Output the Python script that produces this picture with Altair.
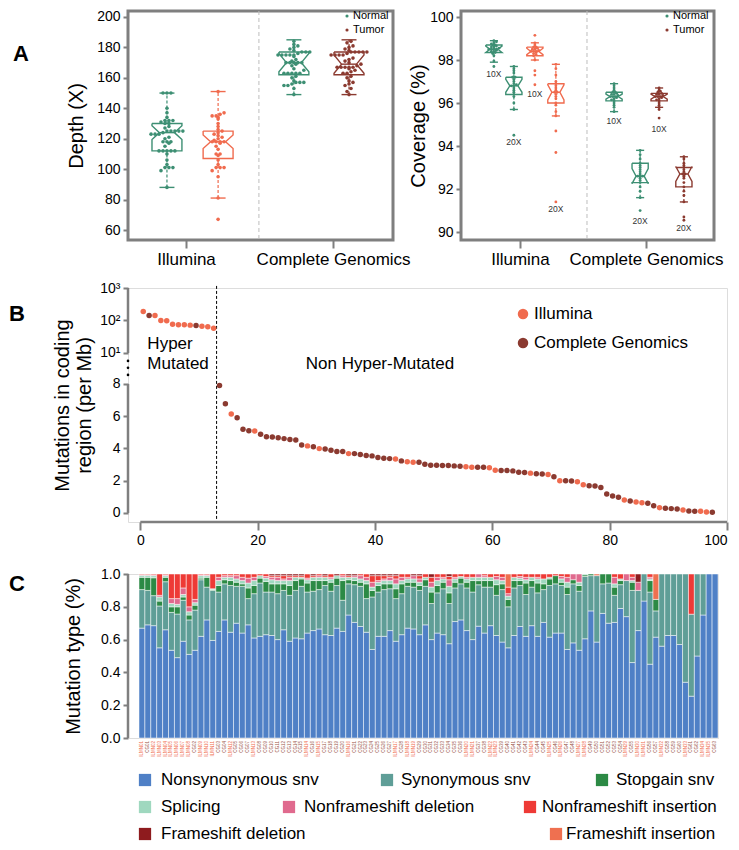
import altair as alt
import pandas as pd
import numpy as np

FONT = "Liberation Sans"
GREEN = "#3d8f73"
CORAL = "#f06b4e"
DARK = "#8b3a30"
GRAY = "#7f7f7f"

# ---------------- Panel A (left): sequencing depth ----------------
DEPTH_ILL_NORMAL = [88, 99, 101, 101, 101, 103, 106, 110, 112, 112, 112, 112, 112, 115, 117,
                    118, 118, 118, 120, 121, 123, 123, 123, 124, 125, 125, 125, 125, 125, 127,
                    128, 130, 130, 131, 132, 132, 132, 134, 137, 140, 150, 150, 150]
DEPTH_ILL_TUMOR = [67, 81, 95, 99, 101, 101, 101, 103, 106, 109, 110, 110, 113, 115, 117, 118,
                   118, 118, 118, 119, 120, 121, 122, 123, 124, 125, 126, 128, 130, 133, 134,
                   135, 135, 136, 137, 151]
DEPTH_CG_NORMAL = [149, 153, 155, 155, 156, 157, 157, 157, 158, 160, 161, 163, 163, 163, 163,
                   163, 165, 166, 168, 169, 170, 170, 170, 170, 170, 171, 172, 174, 175, 175,
                   175, 175, 175, 176, 177, 177, 177, 178, 179, 180, 181, 182, 184]
DEPTH_CG_TUMOR = [149, 151, 153, 155, 156, 157, 158, 160, 161, 163, 163, 164, 165, 166, 167,
                  167, 167, 167, 167, 168, 169, 170, 171, 172, 173, 175, 175, 175, 175, 176,
                  177, 177, 177, 177, 177, 178, 179, 180, 181, 183, 184]
DEPTH_Q1 = [112, 107, 162, 162]
DEPTH_MEDIAN = [124, 118, 170, 169]
DEPTH_Q3 = [130, 125, 177, 177]
DEPTH_WHISK_LO = [88, 81, 149, 149]
DEPTH_WHISK_HI = [150, 151, 185, 185]
DEPTH_NOTCH = [4.5, 4.5, 6.0, 6.0]

# ---------------- Panel A (right): coverage ----------------
COV_ILL_N10 = [97.7, 97.95, 98.2, 98.3, 98.35, 98.4, 98.4, 98.45, 98.5, 98.5, 98.5, 98.5,
               98.55, 98.6, 98.6, 98.65, 98.7, 98.7, 98.75, 98.8, 98.85, 98.9]
COV_ILL_N20 = [94.5, 95.7, 96.0, 96.3, 96.4, 96.5, 96.6, 96.7, 96.8, 96.8, 96.85, 96.9,
               97.0, 97.1, 97.2, 97.2, 97.4, 97.5, 97.6, 97.7]
COV_ILL_T10 = [96.85, 97.3, 97.5, 98.0, 98.2, 98.25, 98.3, 98.35, 98.4, 98.4, 98.4, 98.45,
               98.5, 98.5, 98.55, 98.6, 98.6, 98.7, 98.8, 99.15]
COV_ILL_T20 = [91.4, 93.7, 94.7, 95.4, 95.6, 95.9, 96.0, 96.2, 96.3, 96.4, 96.5, 96.5,
               96.6, 96.7, 96.8, 96.9, 97.0, 97.3, 97.6, 97.8]
COV_CG_N10 = [95.6, 95.8, 95.9, 96.0, 96.1, 96.15, 96.2, 96.25, 96.3, 96.3, 96.3, 96.35,
              96.4, 96.4, 96.45, 96.5, 96.5, 96.6, 96.7, 96.8, 96.9]
COV_CG_N20 = [91.0, 91.6, 91.9, 92.1, 92.3, 92.4, 92.5, 92.6, 92.6, 92.6, 92.7, 92.8,
              92.9, 93.0, 93.1, 93.2, 93.4, 93.6, 93.8]
COV_CG_T10 = [95.3, 95.7, 95.8, 95.9, 96.0, 96.1, 96.15, 96.2, 96.25, 96.3, 96.3, 96.3,
              96.35, 96.4, 96.4, 96.45, 96.5, 96.55, 96.6, 96.7]
COV_CG_T20 = [90.55, 90.7, 91.4, 91.7, 91.9, 92.1, 92.3, 92.5, 92.6, 92.7, 92.7, 92.8,
              92.9, 93.0, 93.1, 93.2, 93.4, 93.5]
COV_Q1 = [98.35, 96.4, 98.2, 96.0, 96.1, 92.3, 96.1, 92.1]
COV_MEDIAN = [98.5, 96.8, 98.4, 96.5, 96.3, 92.6, 96.3, 92.7]
COV_Q3 = [98.7, 97.2, 98.6, 96.9, 96.5, 93.2, 96.45, 93.0]
COV_WHISK_LO = [97.9, 95.7, 98.0, 95.4, 95.6, 91.6, 95.8, 91.4]
COV_WHISK_HI = [98.9, 97.7, 98.8, 97.8, 96.9, 93.8, 96.7, 93.5]
COV_NOTCH = [0.15, 0.3, 0.15, 0.35, 0.12, 0.35, 0.12, 0.35]
COV_TAGS = ["10X", "20X", "10X", "20X", "10X", "20X", "10X", "20X"]
COV_TAG_Y = [97.35, 94.2, 96.4, 91.05, 95.15, 90.5, 94.8, 90.2]

# ---------------- Panel B: mutation rate per sample ----------------
MUT_RATE = [189, 142, 142, 100, 98, 77, 74, 74, 72, 70, 66, 64, 58,
            7.9, 6.77, 6.13, 5.9, 5.19, 5.1, 5.08, 4.88, 4.73, 4.71, 4.67, 4.61, 4.55, 4.53,
            4.22, 4.16, 4.1, 3.99, 3.97, 3.89, 3.81, 3.81, 3.68, 3.68, 3.62, 3.56,
            3.54, 3.44, 3.40, 3.37, 3.35, 3.23, 3.17, 3.15, 3.15, 3.02,
            2.96, 2.96, 2.94, 2.94, 2.92, 2.90, 2.86, 2.84, 2.84, 2.84,
            2.80, 2.65, 2.63, 2.63, 2.61, 2.53, 2.51, 2.47, 2.43, 2.41,
            2.39, 2.24, 2.0, 2.0, 1.98, 1.93, 1.75, 1.69, 1.67, 1.58,
            1.17, 1.05, 0.97, 0.80, 0.74, 0.68, 0.64, 0.60, 0.45, 0.33,
            0.29, 0.27, 0.25, 0.19, 0.12, 0.11, 0.10, 0.06, 0.04]
PLATFORM_CODES = ("ICIIIIIIICIII" + "CCICCCICCCCCCCCICICCCCICCC" +
                  "CCCCICIICC" + "CCCCCCIICC" + "IICCCCCICC" + "ICICCIICCC" +
                  "CCCICIICCI" + "CCCICCIIC")
PLATFORM_NAMES = {"I": "Illumina", "C": "Complete Genomics"}

# ---------------- Panel C: mutation-type fractions per sample ----------------
NONSYN = [0.67, 0.69, 0.685, 0.55, 0.66, 0.535, 0.49, 0.59, 0.51, 0.535,
          0.62, 0.72, 0.595, 0.65, 0.72, 0.645, 0.70, 0.64, 0.69, 0.61,
          0.62, 0.63, 0.625, 0.60, 0.66, 0.59, 0.61, 0.605, 0.64, 0.655,
          0.665, 0.63, 0.625, 0.67, 0.65, 0.75, 0.705, 0.68, 0.645, 0.54,
          0.62, 0.62, 0.655, 0.59, 0.63, 0.67, 0.665, 0.63, 0.69, 0.60,
          0.64, 0.63, 0.575, 0.71, 0.72, 0.655, 0.60, 0.675, 0.64, 0.685,
          0.625, 0.585, 0.55, 0.625, 0.68, 0.62, 0.685, 0.62, 0.705, 0.615,
          0.64, 0.64, 0.54, 0.58, 0.535, 0.605, 0.775, 0.585, 0.76, 0.70,
          0.705, 0.79, 0.74, 0.46, 0.655, 0.835, 0.45, 0.615, 0.56, 0.625,
          0.625, 0.57, 0.34, 0.255, 0.50, 0.75, 1.0, 1.0]
SYN = [0.235, 0.21, 0.183, 0.255, 0.293, 0.231, 0.266, 0.25, 0.21, 0.245,
       0.345, 0.20, 0.305, 0.24, 0.22, 0.285, 0.225, 0.285, 0.16, 0.27,
       0.325, 0.26, 0.265, 0.28, 0.24, 0.28, 0.29, 0.32, 0.25, 0.24,
       0.24, 0.30, 0.27, 0.26, 0.19, 0.19, 0.23, 0.245, 0.205, 0.32,
       0.27, 0.285, 0.255, 0.26, 0.25, 0.255, 0.255, 0.27, 0.235, 0.22,
       0.245, 0.28, 0.245, 0.205, 0.22, 0.26, 0.29, 0.25, 0.28, 0.235,
       0.245, 0.32, 0.25, 0.29, 0.25, 0.255, 0.235, 0.265, 0.20, 0.315,
       0.30, 0.29, 0.335, 0.36, 0.36, 0.38, 0.215, 0.405, 0.18, 0.245,
       0.165, 0.145, 0.22, 0.44, 0.245, 0.165, 0.44, 0.16, 0.44, 0.375,
       0.375, 0.43, 0.66, 0.50, 0.50, 0.25, 0.0, 0.0]
STOPGAIN = [0.075, 0.08, 0.109, 0.03, 0.027, 0.034, 0.044, 0.02, 0.03, 0.03,
            0.01, 0.06, 0.005, 0.04, 0.025, 0.03, 0.025, 0.015, 0.065, 0.05,
            0.03, 0.065, 0.05, 0.06, 0.04, 0.06, 0.06, 0.045, 0.055, 0.065,
            0.055, 0.03, 0.055, 0.045, 0.12, 0.025, 0.025, 0.025, 0.09, 0.04,
            0.04, 0.035, 0.03, 0.06, 0.06, 0.025, 0.03, 0.03, 0.04, 0.07,
            0.045, 0.04, 0.065, 0.035, 0.035, 0.035, 0.07, 0.025, 0.04, 0.04,
            0.065, 0.035, 0.045, 0.045, 0.03, 0.07, 0.04, 0.06, 0.035, 0.04,
            0.05, 0.02, 0.045, 0.025, 0.035, 0.01, 0.01, 0.0, 0.06, 0.055,
            0.05, 0.025, 0.0, 0.05, 0.0, 0.0, 0.07, 0.07, 0.0, 0.0,
            0.0, 0.0, 0.0, 0.0, 0.0, 0.0, 0.0, 0.0]
SPLICING = [0.012, 0.012, 0.013, 0.025, 0.01, 0.02, 0.015, 0.015, 0.02, 0.015,
            0.015, 0.01, 0.005, 0.03, 0.015, 0.02, 0.02, 0.02, 0.03, 0.03,
            0.015, 0.02, 0.025, 0.02, 0.02, 0.03, 0.02, 0.01, 0.02, 0.02,
            0.02, 0.02, 0.02, 0.015, 0.02, 0.015, 0.02, 0.02, 0.02, 0.02,
            0.02, 0.02, 0.02, 0.03, 0.02, 0.02, 0.02, 0.02, 0.015, 0.03,
            0.03, 0.02, 0.04, 0.02, 0.01, 0.02, 0.02, 0.02, 0.02, 0.02,
            0.03, 0.02, 0.02, 0.02, 0.015, 0.02, 0.02, 0.025, 0.03, 0.01,
            0.0, 0.02, 0.03, 0.0, 0.02, 0.005, 0.0, 0.0, 0.0, 0.0,
            0.02, 0.01, 0.0, 0.01, 0.0, 0.0, 0.01, 0.0, 0.0, 0.0,
            0.0, 0.0, 0.0, 0.0, 0.0, 0.0, 0.0, 0.0]
NF_DELETION = [0.004, 0.004, 0.005, 0.01, 0.005, 0.03, 0.035, 0.04, 0.03, 0.02,
               0.005, 0.005, 0.0, 0.02, 0.01, 0.01, 0.02, 0.02, 0.03, 0.02,
               0.0, 0.01, 0.015, 0.02, 0.01, 0.02, 0.0, 0.0, 0.01, 0.0,
               0.01, 0.0, 0.01, 0.0, 0.01, 0.0, 0.01, 0.02, 0.02, 0.03,
               0.01, 0.01, 0.02, 0.03, 0.02, 0.01, 0.02, 0.02, 0.0, 0.03,
               0.02, 0.01, 0.04, 0.01, 0.0, 0.01, 0.0, 0.02, 0.01, 0.0,
               0.02, 0.02, 0.015, 0.0, 0.01, 0.015, 0.0, 0.01, 0.0, 0.0,
               0.0, 0.015, 0.03, 0.035, 0.05, 0.0, 0.0, 0.0, 0.0, 0.0,
               0.04, 0.0, 0.04, 0.02, 0.05, 0.0, 0.01, 0.0, 0.0, 0.0,
               0.0, 0.0, 0.0, 0.0, 0.0, 0.0, 0.0, 0.0]
NF_INSERTION = [0.004, 0.004, 0.005, 0.13, 0.005, 0.15, 0.15, 0.085, 0.20, 0.155,
                0.005, 0.005, 0.09, 0.02, 0.01, 0.01, 0.01, 0.02, 0.025, 0.02,
                0.01, 0.015, 0.01, 0.01, 0.02, 0.01, 0.01, 0.01, 0.025, 0.01,
                0.01, 0.01, 0.02, 0.0, 0.01, 0.01, 0.0, 0.01, 0.02, 0.04,
                0.03, 0.02, 0.01, 0.02, 0.02, 0.02, 0.0, 0.02, 0.02, 0.03,
                0.02, 0.02, 0.02, 0.02, 0.015, 0.02, 0.02, 0.0, 0.01, 0.02,
                0.015, 0.02, 0.04, 0.02, 0.015, 0.02, 0.02, 0.02, 0.03, 0.02,
                0.01, 0.015, 0.02, 0.0, 0.0, 0.0, 0.0, 0.0, 0.0, 0.0,
                0.02, 0.03, 0.0, 0.02, 0.0, 0.0, 0.02, 0.0, 0.0, 0.0,
                0.0, 0.0, 0.0, 0.245, 0.0, 0.0, 0.0, 0.0]
FS_DELETION = [0.0, 0.0, 0.0, 0.0, 0.0, 0.0, 0.0, 0.0, 0.0, 0.0,
               0.0, 0.0, 0.0, 0.0, 0.0, 0.0, 0.0, 0.0, 0.0, 0.0,
               0.0, 0.0, 0.01, 0.01, 0.01, 0.01, 0.01, 0.01, 0.0, 0.01,
               0.0, 0.01, 0.0, 0.01, 0.0, 0.01, 0.01, 0.0, 0.0, 0.01,
               0.01, 0.01, 0.01, 0.01, 0.0, 0.0, 0.01, 0.01, 0.0, 0.02,
               0.0, 0.0, 0.015, 0.0, 0.0, 0.0, 0.0, 0.0, 0.0, 0.0,
               0.0, 0.0, 0.0, 0.0, 0.0, 0.0, 0.0, 0.0, 0.0, 0.0,
               0.0, 0.0, 0.0, 0.0, 0.0, 0.0, 0.0, 0.0, 0.0, 0.0,
               0.0, 0.0, 0.0, 0.0, 0.05, 0.0, 0.0, 0.0, 0.0, 0.0,
               0.0, 0.0, 0.0, 0.0, 0.0, 0.0, 0.0, 0.0]
FS_INSERTION = [0.0, 0.0, 0.0, 0.0, 0.0, 0.0, 0.0, 0.0, 0.0, 0.0,
                0.0, 0.0, 0.0, 0.0, 0.0, 0.0, 0.0, 0.0, 0.0, 0.0,
                0.0, 0.0, 0.0, 0.0, 0.0, 0.0, 0.0, 0.0, 0.0, 0.0,
                0.0, 0.0, 0.0, 0.0, 0.0, 0.0, 0.0, 0.0, 0.0, 0.0,
                0.0, 0.0, 0.0, 0.0, 0.0, 0.0, 0.0, 0.0, 0.0, 0.0,
                0.0, 0.0, 0.0, 0.0, 0.0, 0.0, 0.0, 0.0, 0.0, 0.0,
                0.0, 0.0, 0.08, 0.0, 0.0, 0.0, 0.0, 0.0, 0.0, 0.0,
                0.0, 0.0, 0.0, 0.0, 0.0, 0.0, 0.0, 0.01, 0.0, 0.0,
                0.0, 0.0, 0.0, 0.0, 0.0, 0.0, 0.0, 0.155, 0.0, 0.0,
                0.0, 0.0, 0.0, 0.0, 0.0, 0.0, 0.0, 0.0]
MUT_CATS = ["Nonsynonymous snv", "Synonymous snv", "Stopgain snv", "Splicing",
            "Nonframeshift deletion", "Nonframeshift insertion",
            "Frameshift insertion", "Frameshift deletion"]
MUT_COLORS = ["#4f80c6", "#5f9e97", "#2c8a45", "#9fd8bf",
              "#e06a8e", "#ee3a36", "#ef7050", "#8e1b1e"]

# ---------------- layout (pixels / axis positions, not data) ----------------
A1_W, A1_H = 265, 229
A2_W, A2_H = 253, 229
B_W, B_H = 599, 234
C_W, C_H = 590, 164
DEPTH_POS = [1.47, 3.40, 6.26, 8.34]
DEPTH_BOX_W = 1.13
COV_POS = [1.30, 2.09, 2.92, 3.75, 6.05, 7.08, 7.83, 8.81]
COV_BOX_W = 0.64
T10, KDEC = 9.92, 2.015   # broken-axis transform for panel B

ONE = pd.DataFrame({"k": [0]})


def text_at(txt, x, y, size, color="black", weight="normal", align="left"):
    return alt.Chart(ONE).mark_text(text=txt, fontSize=size, fontWeight=weight, font=FONT,
                                    align=align, baseline="middle", color=color).encode(
        x=alt.value(x), y=alt.value(y))


def dot_at(x, y, color, size, shape="circle"):
    return alt.Chart(ONE).mark_point(shape=shape, filled=True, size=size, opacity=1,
                                     color=color).encode(x=alt.value(x), y=alt.value(y))


def box_frames(groups, pos, boxw, q1, med, q3, lo, hi, notch, colors, bin_w, step):
    outline, whisk, solid, pts = [], [], [], []
    for g in range(len(pos)):
        cx, hw = pos[g], boxw / 2
        iw = hw * 0.5
        a, m, b, nt, c = q1[g], med[g], q3[g], notch[g], colors[g]
        poly = [(cx - hw, b), (cx + hw, b), (cx + hw, m + nt), (cx + iw, m), (cx + hw, m - nt),
                (cx + hw, a), (cx - hw, a), (cx - hw, m - nt), (cx - iw, m), (cx - hw, m + nt),
                (cx - hw, b)]
        for k, (x, y) in enumerate(poly):
            outline.append({"g": g, "k": k, "x": x, "y": y, "c": c})
        whisk.append({"x": cx, "x2": cx, "y": lo[g], "y2": a, "c": c})
        whisk.append({"x": cx, "x2": cx, "y": b, "y2": hi[g], "c": c})
        solid.append({"x": cx - hw / 2, "x2": cx + hw / 2, "y": lo[g], "y2": lo[g], "c": c})
        solid.append({"x": cx - hw / 2, "x2": cx + hw / 2, "y": hi[g], "y2": hi[g], "c": c})
        solid.append({"x": cx - iw, "x2": cx + iw, "y": m, "y2": m, "c": c})
        bins = {}
        for v in sorted(groups[g]):
            bins.setdefault(int(round(v / bin_w)), []).append(v)
        for vs in bins.values():
            n = len(vs)
            for k, v in enumerate(vs):
                pts.append({"x": cx + (k - (n - 1) / 2) * step, "y": v, "c": c})
    return (pd.DataFrame(outline), pd.DataFrame(whisk), pd.DataFrame(solid),
            pd.DataFrame(pts))


def box_layers(frames, X, Y, dot_size):
    outline, whisk, solid, pts = frames
    col = alt.Color("c:N", scale=None)
    return [
        alt.Chart(whisk).mark_rule(strokeDash=[3, 2], strokeWidth=1.2).encode(
            x=X("x"), x2="x2", y=Y("y"), y2="y2", color=col),
        alt.Chart(solid).mark_rule(strokeWidth=1.4).encode(
            x=X("x"), x2="x2", y=Y("y"), y2="y2", color=col),
        alt.Chart(outline).mark_line(strokeWidth=1.4).encode(
            x=X("x"), y=Y("y"), color=col, detail="g:N", order="k:Q"),
        alt.Chart(pts).mark_circle(size=dot_size, opacity=1).encode(
            x=X("x"), y=Y("y"), color=col),
    ]


AXIS_STYLE = dict(domain=False, grid=False, tickWidth=2, tickColor=GRAY, labelColor="black",
                  labelFont=FONT, titleFont=FONT, titleFontWeight="normal", titleColor="black")

# ----- Panel A left -----
ax_a1_x = alt.Axis(values=[2.19, 7.74], title=None, tickSize=8, labelFontSize=17, labelPadding=3,
                   labelExpr="datum.value < 5 ? 'Illumina' : 'Complete Genomics'", **AXIS_STYLE)
ax_a1_y = alt.Axis(values=[60, 80, 100, 120, 140, 160, 180, 200], title="Depth (X)", tickSize=5,
                   labelFontSize=14, labelPadding=3, titleFontSize=20, titlePadding=10, **AXIS_STYLE)
sx_a1 = alt.Scale(domain=[0, 10], nice=False, zero=False)
sy_a1 = alt.Scale(domain=[53.43, 203.94], nice=False, zero=False)
XA1 = lambda f: alt.X(f, type="quantitative", scale=sx_a1, axis=ax_a1_x)
YA1 = lambda f: alt.Y(f, type="quantitative", scale=sy_a1, axis=ax_a1_y)

depth_frames = box_frames([DEPTH_ILL_NORMAL, DEPTH_ILL_TUMOR, DEPTH_CG_NORMAL, DEPTH_CG_TUMOR],
                          DEPTH_POS, DEPTH_BOX_W, DEPTH_Q1, DEPTH_MEDIAN, DEPTH_Q3,
                          DEPTH_WHISK_LO, DEPTH_WHISK_HI, DEPTH_NOTCH,
                          [GREEN, CORAL, GREEN, DARK], 2.0, 0.15)
divider_a1 = alt.Chart(pd.DataFrame({"x": [4.94]})).mark_rule(
    color="#bdbdbd", strokeDash=[4, 3], strokeWidth=1).encode(x=XA1("x"))
chart_a1 = alt.layer(
    divider_a1, *box_layers(depth_frames, XA1, YA1, 13),
    dot_at(219, 5, GREEN, 10), text_at("Normal", 225, 5, 11),
    dot_at(219, 19, DARK, 10), text_at("Tumor", 225, 19, 11),
    text_at("A", -107, 43, 22, weight="bold", align="center"),
).properties(width=A1_W, height=A1_H,
             view=alt.ViewBackground(stroke=GRAY, strokeWidth=3))

# ----- Panel A right -----
ax_a2_x = alt.Axis(values=[2.33, 7.31], title=None, tickSize=8, labelFontSize=17, labelPadding=3,
                   labelExpr="datum.value < 5 ? 'Illumina' : 'Complete Genomics'", **AXIS_STYLE)
ax_a2_y = alt.Axis(values=[90, 92, 94, 96, 98, 100], title="Coverage (%)", tickSize=5,
                   labelFontSize=14, labelPadding=3, titleFontSize=20, titlePadding=1, **AXIS_STYLE)
sx_a2 = alt.Scale(domain=[0, 10], nice=False, zero=False)
sy_a2 = alt.Scale(domain=[89.63, 100.28], nice=False, zero=False)
XA2 = lambda f: alt.X(f, type="quantitative", scale=sx_a2, axis=ax_a2_x)
YA2 = lambda f: alt.Y(f, type="quantitative", scale=sy_a2, axis=ax_a2_y)

cov_frames = box_frames([COV_ILL_N10, COV_ILL_N20, COV_ILL_T10, COV_ILL_T20,
                         COV_CG_N10, COV_CG_N20, COV_CG_T10, COV_CG_T20],
                        COV_POS, COV_BOX_W, COV_Q1, COV_MEDIAN, COV_Q3,
                        COV_WHISK_LO, COV_WHISK_HI, COV_NOTCH,
                        [GREEN, GREEN, CORAL, CORAL, GREEN, GREEN, DARK, DARK], 0.1, 0.1)
divider_a2 = alt.Chart(pd.DataFrame({"x": [4.98]})).mark_rule(
    color="#bdbdbd", strokeDash=[4, 3], strokeWidth=1).encode(x=XA2("x"))
cov_tags = alt.Chart(pd.DataFrame({"x": COV_POS, "y": COV_TAG_Y, "t": COV_TAGS})).mark_text(
    fontSize=8.5, font=FONT, color="#333333", baseline="middle").encode(
    x=XA2("x"), y=YA2("y"), text="t:N")
chart_a2 = alt.layer(
    divider_a2, *box_layers(cov_frames, XA2, YA2, 8), cov_tags,
    dot_at(206, 5, GREEN, 10), text_at("Normal", 212, 5, 11),
    dot_at(206, 19, DARK, 10), text_at("Tumor", 212, 19, 11),
).properties(width=A2_W, height=A2_H,
             view=alt.ViewBackground(stroke=GRAY, strokeWidth=3))

row_a = alt.hconcat(chart_a1, chart_a2, spacing=68, bounds="flush")

# ----- Panel B -----
def broken(v):
    return v if v <= 8 else T10 + KDEC * np.log10(v / 10.0)

dfB = pd.DataFrame({
    "x": [i + 0.5 for i in range(len(MUT_RATE))],
    "t": [broken(v) for v in MUT_RATE],
    "platform": [PLATFORM_NAMES[c] for c in PLATFORM_CODES],
})
sx_b = alt.Scale(domain=[-2.1, 100], nice=False, zero=False)
sy_b = alt.Scale(domain=[-0.56, 13.95], nice=False, zero=False)
ax_b_x = alt.Axis(values=[0, 20, 40, 60, 80, 100], title=None, tickSize=8, labelFontSize=14,
                  labelPadding=3, labelFlush=True, **AXIS_STYLE)
ax_b_y = alt.Axis(values=[0, 2, 4, 6, 8, T10, T10 + KDEC, T10 + 2 * KDEC],
                  labelExpr=("datum.value > 13 ? '10³' : datum.value > 11 ? '10²' : "
                             "datum.value > 9 ? '10¹' : datum.label"),
                  title=["Mutations in coding", "region (per Mb)"], tickSize=5, labelFontSize=14,
                  labelPadding=3, titleFontSize=20, titlePadding=5, titleLineHeight=22,
                  **AXIS_STYLE)
XB = lambda f: alt.X(f, type="quantitative", scale=sx_b, axis=ax_b_x)
YB = lambda f: alt.Y(f, type="quantitative", scale=sy_b, axis=ax_b_y)

b_points = alt.Chart(dfB).mark_circle(size=30, opacity=1).encode(
    x=XB("x"), y=YB("t"),
    color=alt.Color("platform:N", scale=alt.Scale(domain=["Illumina", "Complete Genomics"],
                                                  range=[CORAL, DARK]), legend=None))
b_yline = alt.Chart(pd.DataFrame({"y": [0, T10], "y2": [8, T10 + 2 * KDEC]})).mark_rule(
    color=GRAY, strokeWidth=2.5).encode(x=alt.value(0), y=YB("y"), y2="y2")
b_xline = alt.Chart(pd.DataFrame({"x": [0], "x2": [100]})).mark_rule(
    color=GRAY, strokeWidth=2.5).encode(x=XB("x"), x2="x2", y=alt.value(B_H))
b_break = alt.Chart(pd.DataFrame({"y": [8.56, 9.0, 9.43]})).mark_circle(
    size=7, color="black", opacity=1).encode(x=alt.value(0), y=YB("y"))
b_cut = alt.Chart(pd.DataFrame({"x": [13], "y": [-0.37], "y2": [14.2]})).mark_rule(
    color="black", strokeDash=[3, 2], strokeWidth=1).encode(x=XB("x"), y=YB("y"), y2="y2")
b_text = alt.Chart(pd.DataFrame({"x": [1.2, 1.2, 28.2], "y": [10.48, 9.24, 9.24],
                                 "t": ["Hyper", "Mutated", "Non Hyper-Mutated"]})).mark_text(
    fontSize=17, font=FONT, align="left", baseline="middle", color="black").encode(
    x=XB("x"), y=YB("y"), text="t:N")
chart_b = alt.layer(
    b_yline, b_xline, b_break, b_cut, b_points, b_text,
    dot_at(395, 26, CORAL, 110), text_at("Illumina", 406, 26, 17),
    dot_at(395, 55, DARK, 110), text_at("Complete Genomics", 406, 55, 17),
    text_at("B", -119, 26, 22, weight="bold"),
).properties(width=B_W, height=B_H)

# ----- Panel C -----
cat_arrays = [NONSYN, SYN, STOPGAIN, SPLICING, NF_DELETION, NF_INSERTION, FS_INSERTION, FS_DELETION]
rows = []
for i in range(len(NONSYN)):
    vals = [arr[i] for arr in cat_arrays]
    tot = sum(vals)
    acc = 0.0
    for cat, v in zip(MUT_CATS, vals):
        if v <= 0:
            continue
        frac = v / tot
        rows.append({"x0": i, "x1": i + 1, "y0": acc, "y1": acc + frac, "cat": cat})
        acc += frac
dfC = pd.DataFrame(rows)

names, n_i, n_c = [], 0, 0
for code in PLATFORM_CODES:
    if code == "I":
        n_i += 1
        names.append(f"ILMN{n_i:02d}")
    else:
        n_c += 1
        names.append(f"CG{n_c:02d}")
dfNames = pd.DataFrame({"x": [i + 0.5 for i in range(len(names))], "name": names,
                        "col": [CORAL if c == "I" else "#9a5548" for c in PLATFORM_CODES]})

sx_c = alt.Scale(domain=[-1.86, 98], nice=False, zero=False)
sy_c = alt.Scale(domain=[0, 1], nice=False, zero=False)
ax_c_y = alt.Axis(values=[0, 0.2, 0.4, 0.6, 0.8, 1.0], format=".1f", title="Mutation type (%)",
                  tickSize=5, labelFontSize=14, labelPadding=3, titleFontSize=20,
                  titlePadding=17, **AXIS_STYLE)
XC = lambda f: alt.X(f, type="quantitative", scale=sx_c, axis=None)
YC = lambda f: alt.Y(f, type="quantitative", scale=sy_c, axis=ax_c_y)

c_bars = alt.Chart(dfC).mark_rect(stroke="white", strokeWidth=0.5).encode(
    x=XC("x0"), x2="x1", y=YC("y0"), y2="y1",
    color=alt.Color("cat:N", scale=alt.Scale(domain=MUT_CATS, range=MUT_COLORS), legend=None))
c_yline = alt.Chart(pd.DataFrame({"y": [0], "y2": [1]})).mark_rule(
    color=GRAY, strokeWidth=2.5).encode(x=alt.value(0), y=YC("y"), y2="y2")
c_names = alt.Chart(dfNames).mark_text(angle=270, align="right", baseline="middle",
                                       fontSize=4.5, font=FONT).encode(
    x=XC("x"), y=alt.value(C_H + 3), text="name:N", color=alt.Color("col:N", scale=None))

LEG_SQ = [(17, 206), (259, 206), (474, 206), (17, 233), (161, 233), (402, 233), (17, 260), (428, 260)]
LEG_TX = [(33, 206), (273, 206), (488, 206), (33, 233), (176, 233), (414, 233), (33, 260), (438, 260)]
LEG_ORDER = ["Nonsynonymous snv", "Synonymous snv", "Stopgain snv", "Splicing",
             "Nonframeshift deletion", "Nonframeshift insertion",
             "Frameshift deletion", "Frameshift insertion"]
legend_layers = []
for lab, (sx, sy), (tx, ty) in zip(LEG_ORDER, LEG_SQ, LEG_TX):
    col = MUT_COLORS[MUT_CATS.index(lab)]
    legend_layers.append(dot_at(sx, sy, col, 150, shape="square"))
    legend_layers.append(text_at(lab, tx, ty, 17))

chart_c = alt.layer(
    c_bars, c_yline, c_names, *legend_layers,
    text_at("C", -111, 10, 22, weight="bold", align="center"),
).properties(width=C_W, height=C_H)

# with "flush" bounds a nested concat counts as zero height, so the spacings
# below are the offsets of each row's plot top from panel A's plot top
top = alt.vconcat(row_a, chart_b, spacing=277, bounds="flush")
chart = alt.vconcat(top, chart_c, spacing=563, bounds="flush").resolve_scale(
    color="independent").properties(padding=0).configure_view(stroke=None).configure(font=FONT)

chart.save("out.html", embed_options={"renderer": "svg", "actions": False})
